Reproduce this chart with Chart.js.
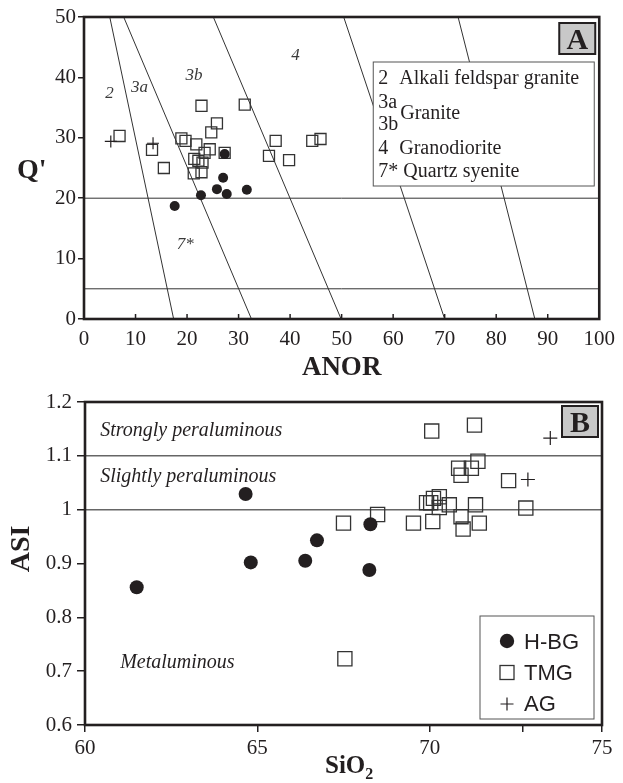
<!DOCTYPE html>
<html>
<head>
<meta charset="utf-8">
<script src="https://cdn.jsdelivr.net/npm/chart.js@4.4.1/dist/chart.umd.min.js"></script>
<style>
  html, body { margin: 0; padding: 0; background: #fff; }
  #wrap { position: relative; width: 623px; height: 783px; }
  canvas { position: absolute; left: 0; }
  #chartA { top: 0; }
  #chartB { top: 380px; }
</style>
</head>
<body>
<div id="wrap">
  <canvas id="chartA" width="623" height="392"></canvas>
  <canvas id="chartB" width="623" height="403"></canvas>
</div>
<script>
// ---- panel A : Q' vs ANOR ----
var anorTicks = [0, 10, 20, 30, 40, 50, 60, 70, 80, 90, 100];
var qTicks = [0, 10, 20, 30, 40, 50];

var hbgAnor = [17.6, 22.7, 25.8, 27.0, 27.3, 27.7, 31.6];
var hbgQ    = [18.7, 20.5, 21.5, 23.4, 27.3, 20.7, 21.4];

var tmgAnor = [6.9, 13.2, 15.5, 18.9, 19.7, 21.3, 21.4, 21.8, 22.2, 22.8, 22.8, 23.0,
               23.4, 24.4, 24.7, 25.8, 27.3, 31.2, 35.9, 37.2, 39.8, 44.3, 45.9];
var tmgQ    = [30.3, 28.0, 25.0, 29.9, 29.5, 24.1, 26.5, 28.9, 26.2, 35.3, 24.3, 25.9,
               27.5, 28.1, 30.9, 32.4, 27.5, 35.5, 27.0, 29.5, 26.3, 29.5, 29.8];

var agAnor = [5.2, 13.4];
var agQ    = [29.4, 29.1];

// field boundaries: ANOR at Q'=50 and at Q'=0
var bndTopAnor  = [5.0, 7.7, 25.1, 50.4, 72.6];
var bndBaseAnor = [17.4, 32.5, 49.9, 70.0, 87.5];
var qLevels = [20, 5];

var fieldNames = ['2', '3a', '3b', '4', '7*'];
var fieldAnor  = [4.1, 9.1, 19.7, 40.2, 18.0];
var fieldQ     = [36.6, 37.6, 39.5, 42.9, 11.6];

// ---- panel B : ASI vs SiO2 ----
var sio2Ticks  = [60, 65, 70, 72.7, 75];
var sio2Labels = ['60', '65', '70', '', '75'];
var asiTicks   = [0.6, 0.7, 0.8, 0.9, 1.0, 1.1, 1.2];
var asiLabels  = ['0.6', '0.7', '0.8', '0.9', '1', '1.1', '1.2'];

var hbgSi  = [61.5, 64.66, 64.81, 66.39, 66.73, 68.25, 68.28];
var hbgAsi = [0.856, 1.029, 0.902, 0.905, 0.943, 0.888, 0.973];

var tmgSi  = [70.06, 71.30, 71.40, 70.84, 71.21, 70.91, 72.29, 68.49, 67.50, 69.53, 70.09, 69.91,
              70.11, 70.28, 70.03, 70.28, 70.57, 71.33, 70.91, 71.44, 70.97, 72.79, 67.54];
var tmgAsi = [1.146, 1.157, 1.090, 1.077, 1.077, 1.064, 1.054, 0.991, 0.975, 0.975, 0.978, 1.013,
              1.021, 1.024, 1.013, 1.004, 1.009, 1.009, 0.987, 0.975, 0.964, 1.003, 0.723];

var agSi  = [73.50, 72.85];
var agAsi = [1.133, 1.056];

var asiLevels = [1.0, 1.1];
var zoneNames = ['Strongly peraluminous', 'Slightly peraluminous', 'Metaluminous'];
var zoneSi    = [60.44, 60.44, 61.02];
var zoneAsi   = [1.137, 1.052, 0.706];

var seriesNames = ['H-BG', 'TMG', 'AG'];

// ---- styling ----
var serif = '"Liberation Serif", "Times New Roman", serif';
var sans = '"Liberation Sans", Arial, sans-serif';
var ink = '#231f20';

Chart.defaults.font.family = serif;
Chart.defaults.color = ink;

function pts(xs, ys) {
  return xs.map(function(v, i) { return {x: v, y: ys[i]}; });
}

function lineSet(data, color, width) {
  return {data: data, showLine: true, pointRadius: 0, borderColor: color, borderWidth: width, fill: false};
}

function panelLetter(ctx, letter, x, y) {
  ctx.fillStyle = '#c8c8c8';
  ctx.fillRect(x, y, 36, 31);
  ctx.strokeStyle = ink;
  ctx.lineWidth = 2;
  ctx.strokeRect(x, y, 36, 31);
  ctx.fillStyle = ink;
  ctx.font = 'bold 30px ' + serif;
  ctx.textAlign = 'center';
  ctx.textBaseline = 'alphabetic';
  ctx.fillText(letter, x + 18, y + 26);
  ctx.textAlign = 'left';
}

// ---------- chart A ----------
var setsA = [
  {label: seriesNames[0], data: pts(hbgAnor, hbgQ), pointStyle: 'circle', pointRadius: 5,
   backgroundColor: ink, borderColor: ink, borderWidth: 0},
  {label: seriesNames[2], data: pts(agAnor, agQ), pointStyle: 'cross', pointRadius: 6,
   borderColor: ink, borderWidth: 1.2},
  {label: seriesNames[1], data: pts(tmgAnor, tmgQ), pointStyle: 'rect', pointRadius: 7.8,
   backgroundColor: 'rgba(0,0,0,0)', borderColor: '#333', borderWidth: 1.3}
];
for (var i = 0; i < bndTopAnor.length; i++) {
  setsA.push(lineSet([{x: bndTopAnor[i], y: 50}, {x: bndBaseAnor[i], y: 0}], '#333', 1));
}
qLevels.forEach(function(q) {
  setsA.push(lineSet([{x: 0, y: q}, {x: 100, y: q}], '#333', 1));
});

var decorA = {
  id: 'decorA',
  afterDraw: function(chart) {
    var ctx = chart.ctx, a = chart.chartArea, x = chart.scales.x, y = chart.scales.y;
    ctx.save();
    // inward ticks on the ANOR axis
    ctx.strokeStyle = ink;
    ctx.lineWidth = 1.5;
    anorTicks.forEach(function(v) {
      var px = x.getPixelForValue(v);
      ctx.beginPath();
      ctx.moveTo(px, a.bottom);
      ctx.lineTo(px, a.bottom - 5);
      ctx.stroke();
    });
    // frame
    ctx.lineWidth = 2.6;
    ctx.strokeRect(a.left, a.top, a.right - a.left, a.bottom - a.top);

    // field numbers
    ctx.font = 'italic 17px ' + serif;
    ctx.fillStyle = '#3a3a3a';
    ctx.textAlign = 'left';
    ctx.textBaseline = 'alphabetic';
    fieldNames.forEach(function(t, i) {
      ctx.fillText(t, x.getPixelForValue(fieldAnor[i]), y.getPixelForValue(fieldQ[i]));
    });

    // key box
    var bx = a.right - 226, by = a.top + 45;
    ctx.fillStyle = '#fff';
    ctx.fillRect(bx, by, 221, 124);
    ctx.strokeStyle = '#555';
    ctx.lineWidth = 1;
    ctx.strokeRect(bx, by, 221, 124);
    ctx.fillStyle = ink;
    ctx.font = '20px ' + serif;
    ctx.fillText('2', bx + 5, by + 22);
    ctx.fillText('Alkali feldspar granite', bx + 26, by + 22);
    ctx.fillText('3a', bx + 5, by + 46);
    ctx.fillText('Granite', bx + 27, by + 57);
    ctx.fillText('3b', bx + 5, by + 68);
    ctx.fillText('4', bx + 5, by + 92);
    ctx.fillText('Granodiorite', bx + 26, by + 92);
    ctx.fillText('7* Quartz syenite', bx + 5, by + 115);

    panelLetter(ctx, 'A', a.right - 40, a.top + 6);

    // axis titles
    ctx.fillStyle = ink;
    ctx.font = 'bold 28px ' + serif;
    ctx.textAlign = 'left';
    ctx.fillText("Q'", 17, 178);
    ctx.font = 'bold 27px ' + serif;
    ctx.textAlign = 'center';
    ctx.fillText('ANOR', (a.left + a.right) / 2, 375);
    ctx.restore();
  }
};

new Chart(document.getElementById('chartA'), {
  type: 'scatter',
  data: {datasets: setsA},
  options: {
    responsive: false,
    animation: false,
    events: [],
    layout: {padding: {top: 17, right: 21, left: 0, bottom: 0}},
    plugins: {legend: {display: false}, tooltip: {enabled: false}},
    scales: {
      x: {
        type: 'linear', min: 0, max: 100,
        afterBuildTicks: function(s) { s.ticks = anorTicks.map(function(v) { return {value: v}; }); },
        afterFit: function(s) { s.height = 73; },
        ticks: {font: {size: 21}, color: ink, padding: 8, maxRotation: 0, autoSkip: false},
        grid: {display: false, drawTicks: false},
        border: {display: false}
      },
      y: {
        type: 'linear', min: 0, max: 50,
        afterBuildTicks: function(s) { s.ticks = qTicks.map(function(v) { return {value: v}; }); },
        afterFit: function(s) { s.width = 84; },
        ticks: {font: {size: 21}, color: ink, padding: 2, autoSkip: false},
        grid: {display: true, drawOnChartArea: false, drawTicks: true, tickLength: 6, color: ink, lineWidth: 1.5},
        border: {display: false}
      }
    }
  },
  plugins: [decorA]
});

// ---------- chart B ----------
var setsB = [
  {label: seriesNames[0], data: pts(hbgSi, hbgAsi), pointStyle: 'circle', pointRadius: 7,
   backgroundColor: ink, borderColor: ink, borderWidth: 0},
  {label: seriesNames[2], data: pts(agSi, agAsi), pointStyle: 'cross', pointRadius: 7,
   borderColor: ink, borderWidth: 1.2},
  {label: seriesNames[1], data: pts(tmgSi, tmgAsi), pointStyle: 'rect', pointRadius: 10,
   backgroundColor: 'rgba(0,0,0,0)', borderColor: '#333', borderWidth: 1.3}
];
asiLevels.forEach(function(v) {
  setsB.push(lineSet([{x: 60, y: v}, {x: 75, y: v}], '#666', 1.5));
});

var decorB = {
  id: 'decorB',
  afterDraw: function(chart) {
    var ctx = chart.ctx, a = chart.chartArea, x = chart.scales.x, y = chart.scales.y;
    ctx.save();
    ctx.strokeStyle = ink;
    ctx.lineWidth = 2.6;
    ctx.strokeRect(a.left, a.top, a.right - a.left, a.bottom - a.top);

    // zone names
    ctx.font = 'italic 20px ' + serif;
    ctx.fillStyle = ink;
    ctx.textAlign = 'left';
    ctx.textBaseline = 'alphabetic';
    zoneNames.forEach(function(t, i) {
      ctx.fillText(t, x.getPixelForValue(zoneSi[i]), y.getPixelForValue(zoneAsi[i]));
    });

    panelLetter(ctx, 'B', a.right - 40, a.top + 4);

    // legend
    var lx = 480, ly = 236;
    ctx.fillStyle = '#fff';
    ctx.fillRect(lx, ly, 114, 103);
    ctx.strokeStyle = '#555';
    ctx.lineWidth = 1;
    ctx.strokeRect(lx, ly, 114, 103);
    var mx = lx + 27;
    // circle
    ctx.fillStyle = ink;
    ctx.beginPath();
    ctx.arc(mx, ly + 25, 7.2, 0, Math.PI * 2);
    ctx.fill();
    // square
    ctx.strokeStyle = '#333';
    ctx.lineWidth = 1.3;
    ctx.strokeRect(mx - 7, ly + 49.5, 14, 14);
    // cross
    ctx.strokeStyle = ink;
    ctx.lineWidth = 1.2;
    ctx.beginPath();
    ctx.moveTo(mx - 6.5, ly + 88); ctx.lineTo(mx + 6.5, ly + 88);
    ctx.moveTo(mx, ly + 81.5); ctx.lineTo(mx, ly + 94.5);
    ctx.stroke();
    ctx.fillStyle = ink;
    ctx.font = '22px ' + sans;
    ctx.textAlign = 'left';
    ctx.fillText(seriesNames[0], lx + 44, ly + 33);
    ctx.fillText(seriesNames[1], lx + 44, ly + 64);
    ctx.fillText(seriesNames[2], lx + 44, ly + 95);

    // axis titles
    ctx.font = 'bold 28px ' + serif;
    ctx.save();
    ctx.translate(29, 169);
    ctx.rotate(-Math.PI / 2);
    ctx.textAlign = 'center';
    ctx.fillText('ASI', 0, 0);
    ctx.restore();
    ctx.font = 'bold 25px ' + serif;
    ctx.textAlign = 'left';
    ctx.fillText('SiO', 325, 393);
    var w = ctx.measureText('SiO').width;
    ctx.font = 'bold 16px ' + serif;
    ctx.fillText('2', 325 + w, 399);
    ctx.restore();
  }
};

new Chart(document.getElementById('chartB'), {
  type: 'scatter',
  data: {datasets: setsB},
  options: {
    responsive: false,
    animation: false,
    events: [],
    layout: {padding: {top: 22, right: 21, left: 0, bottom: 0}},
    plugins: {legend: {display: false}, tooltip: {enabled: false}},
    scales: {
      x: {
        type: 'linear', min: 60, max: 75,
        afterBuildTicks: function(s) { s.ticks = sio2Ticks.map(function(v) { return {value: v}; }); },
        afterFit: function(s) { s.height = 58; },
        ticks: {font: {size: 21}, color: ink, padding: 3.5, maxRotation: 0, autoSkip: false,
                callback: function(v, i) { return sio2Labels[i]; }},
        grid: {display: true, drawOnChartArea: false, drawTicks: true, tickLength: 7, color: ink, lineWidth: 1.5},
        border: {display: false}
      },
      y: {
        type: 'linear', min: 0.6, max: 1.2,
        afterBuildTicks: function(s) { s.ticks = asiTicks.map(function(v) { return {value: v}; }); },
        afterFit: function(s) { s.width = 85; },
        ticks: {font: {size: 21}, color: ink, padding: 5, autoSkip: false,
                callback: function(v, i) { return asiLabels[i]; }},
        grid: {display: true, drawOnChartArea: false, drawTicks: true, tickLength: 8, color: ink, lineWidth: 1.5},
        border: {display: false}
      }
    }
  },
  plugins: [decorB]
});
</script>
</body>
</html>
